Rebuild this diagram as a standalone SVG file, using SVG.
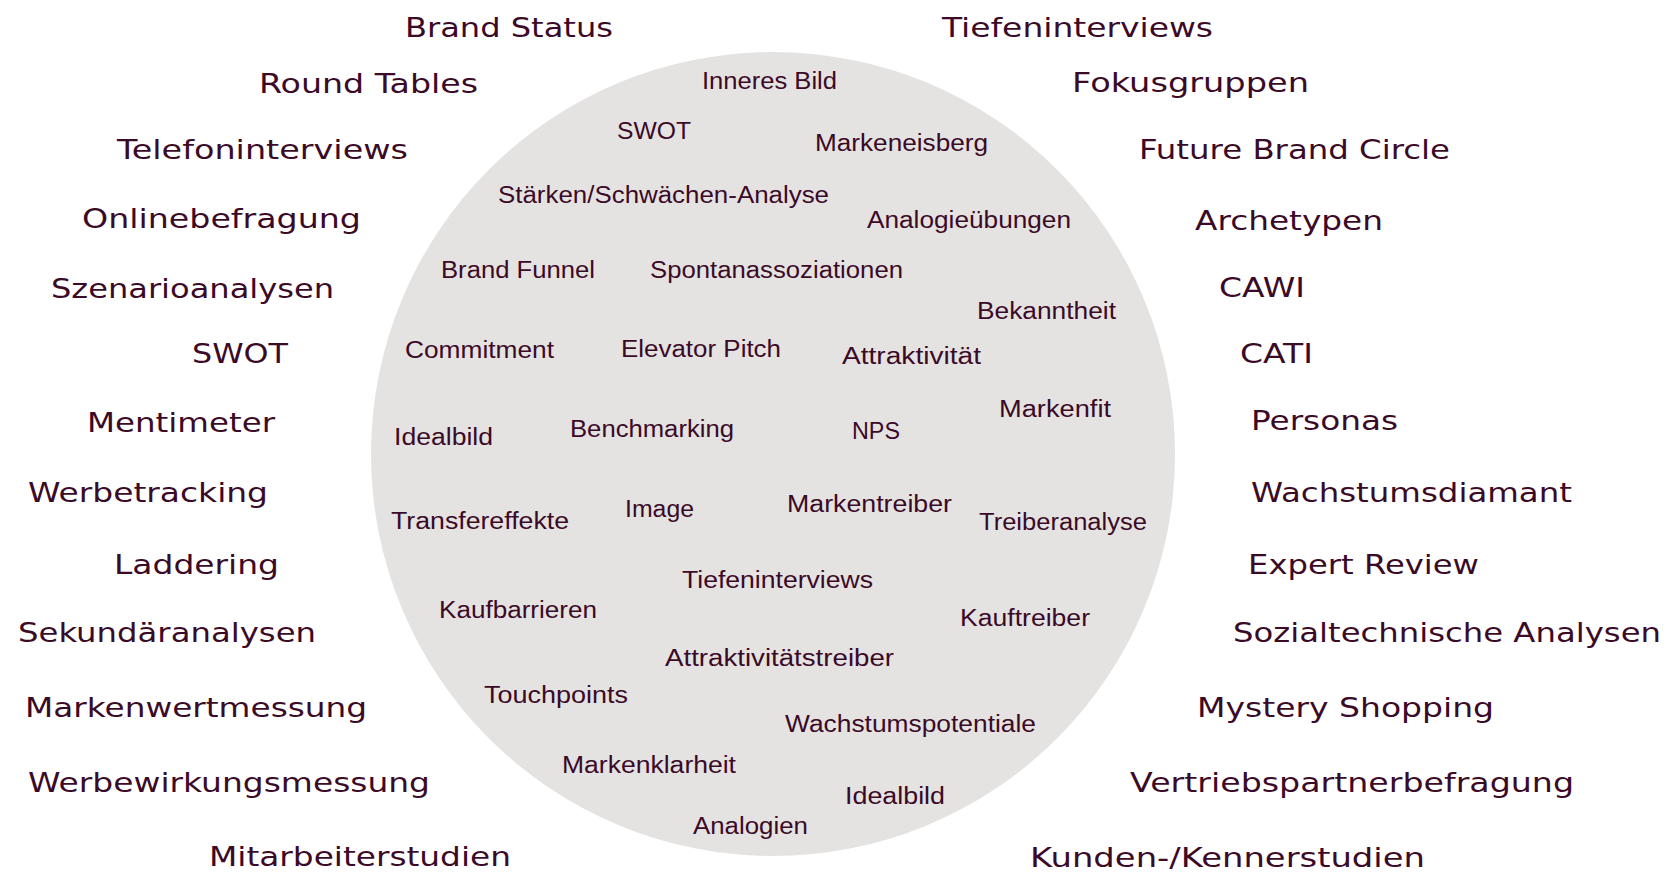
<svg xmlns="http://www.w3.org/2000/svg" width="1680" height="894" viewBox="0 0 1680 894">
<style>
.o{font-family:"DejaVu Sans","Liberation Sans",sans-serif;font-size:26.5px;fill:#3b0a27}
.i{font-family:"Liberation Sans","DejaVu Sans",sans-serif;font-size:23.5px;fill:#3b0a27}
</style>
<rect width="1680" height="894" fill="#ffffff"/>
<g id="circle"><circle cx="773" cy="454" r="402" fill="#e5e3e2"/></g>
<g id="left-methods">
<g id="l1"><text class="o" x="405" y="37" textLength="208" lengthAdjust="spacingAndGlyphs">Brand Status</text></g>
<g id="l2"><text class="o" x="259" y="93" textLength="219" lengthAdjust="spacingAndGlyphs">Round Tables</text></g>
<g id="l3"><text class="o" x="117" y="159" textLength="291" lengthAdjust="spacingAndGlyphs">Telefoninterviews</text></g>
<g id="l4"><text class="o" x="82" y="228" textLength="279" lengthAdjust="spacingAndGlyphs">Onlinebefragung</text></g>
<g id="l5"><text class="o" x="51" y="298" textLength="283" lengthAdjust="spacingAndGlyphs">Szenarioanalysen</text></g>
<g id="l6"><text class="o" x="192" y="363" textLength="96" lengthAdjust="spacingAndGlyphs">SWOT</text></g>
<g id="l7"><text class="o" x="87" y="432" textLength="188" lengthAdjust="spacingAndGlyphs">Mentimeter</text></g>
<g id="l8"><text class="o" x="28" y="502" textLength="240" lengthAdjust="spacingAndGlyphs">Werbetracking</text></g>
<g id="l9"><text class="o" x="114" y="574" textLength="165" lengthAdjust="spacingAndGlyphs">Laddering</text></g>
<g id="l10"><text class="o" x="18" y="642" textLength="298" lengthAdjust="spacingAndGlyphs">Sekundäranalysen</text></g>
<g id="l11"><text class="o" x="25" y="717" textLength="342" lengthAdjust="spacingAndGlyphs">Markenwertmessung</text></g>
<g id="l12"><text class="o" x="28" y="792" textLength="402" lengthAdjust="spacingAndGlyphs">Werbewirkungsmessung</text></g>
<g id="l13"><text class="o" x="209" y="866" textLength="302" lengthAdjust="spacingAndGlyphs">Mitarbeiterstudien</text></g>
</g>
<g id="right-methods">
<g id="r1"><text class="o" x="942" y="37" textLength="271" lengthAdjust="spacingAndGlyphs">Tiefeninterviews</text></g>
<g id="r2"><text class="o" x="1072" y="92" textLength="237" lengthAdjust="spacingAndGlyphs">Fokusgruppen</text></g>
<g id="r3"><text class="o" x="1139" y="159" textLength="311" lengthAdjust="spacingAndGlyphs">Future Brand Circle</text></g>
<g id="r4"><text class="o" x="1195" y="230" textLength="188" lengthAdjust="spacingAndGlyphs">Archetypen</text></g>
<g id="r5"><text class="o" x="1219" y="297" textLength="86" lengthAdjust="spacingAndGlyphs">CAWI</text></g>
<g id="r6"><text class="o" x="1240" y="363" textLength="73" lengthAdjust="spacingAndGlyphs">CATI</text></g>
<g id="r7"><text class="o" x="1251" y="430" textLength="147" lengthAdjust="spacingAndGlyphs">Personas</text></g>
<g id="r8"><text class="o" x="1251" y="502" textLength="321" lengthAdjust="spacingAndGlyphs">Wachstumsdiamant</text></g>
<g id="r9"><text class="o" x="1248" y="574" textLength="231" lengthAdjust="spacingAndGlyphs">Expert Review</text></g>
<g id="r10"><text class="o" x="1233" y="642" textLength="428" lengthAdjust="spacingAndGlyphs">Sozialtechnische Analysen</text></g>
<g id="r11"><text class="o" x="1197" y="717" textLength="297" lengthAdjust="spacingAndGlyphs">Mystery Shopping</text></g>
<g id="r12"><text class="o" x="1130" y="792" textLength="444" lengthAdjust="spacingAndGlyphs">Vertriebspartnerbefragung</text></g>
<g id="r13"><text class="o" x="1030" y="867" textLength="395" lengthAdjust="spacingAndGlyphs">Kunden-/Kennerstudien</text></g>
</g>
<g id="inner-topics">
<g id="c1"><text class="i" x="702" y="89" textLength="135" lengthAdjust="spacingAndGlyphs">Inneres Bild</text></g>
<g id="c2"><text class="i" x="617" y="139" textLength="74" lengthAdjust="spacingAndGlyphs">SWOT</text></g>
<g id="c3"><text class="i" x="815" y="151" textLength="173" lengthAdjust="spacingAndGlyphs">Markeneisberg</text></g>
<g id="c4"><text class="i" x="498" y="203" textLength="331" lengthAdjust="spacingAndGlyphs">Stärken/Schwächen-Analyse</text></g>
<g id="c5"><text class="i" x="867" y="228" textLength="204" lengthAdjust="spacingAndGlyphs">Analogieübungen</text></g>
<g id="c6"><text class="i" x="441" y="278" textLength="154" lengthAdjust="spacingAndGlyphs">Brand Funnel</text></g>
<g id="c7"><text class="i" x="650" y="278" textLength="253" lengthAdjust="spacingAndGlyphs">Spontanassoziationen</text></g>
<g id="c8"><text class="i" x="977" y="319" textLength="139" lengthAdjust="spacingAndGlyphs">Bekanntheit</text></g>
<g id="c9"><text class="i" x="405" y="358" textLength="149" lengthAdjust="spacingAndGlyphs">Commitment</text></g>
<g id="c10"><text class="i" x="621" y="357" textLength="160" lengthAdjust="spacingAndGlyphs">Elevator Pitch</text></g>
<g id="c11"><text class="i" x="842" y="364" textLength="139" lengthAdjust="spacingAndGlyphs">Attraktivität</text></g>
<g id="c12"><text class="i" x="394" y="445" textLength="99" lengthAdjust="spacingAndGlyphs">Idealbild</text></g>
<g id="c13"><text class="i" x="570" y="437" textLength="164" lengthAdjust="spacingAndGlyphs">Benchmarking</text></g>
<g id="c14"><text class="i" x="852" y="439" textLength="48" lengthAdjust="spacingAndGlyphs">NPS</text></g>
<g id="c15"><text class="i" x="999" y="417" textLength="112" lengthAdjust="spacingAndGlyphs">Markenfit</text></g>
<g id="c16"><text class="i" x="391" y="529" textLength="178" lengthAdjust="spacingAndGlyphs">Transfereffekte</text></g>
<g id="c17"><text class="i" x="625" y="517" textLength="69" lengthAdjust="spacingAndGlyphs">Image</text></g>
<g id="c18"><text class="i" x="787" y="512" textLength="165" lengthAdjust="spacingAndGlyphs">Markentreiber</text></g>
<g id="c19"><text class="i" x="979" y="530" textLength="168" lengthAdjust="spacingAndGlyphs">Treiberanalyse</text></g>
<g id="c20"><text class="i" x="682" y="588" textLength="191" lengthAdjust="spacingAndGlyphs">Tiefeninterviews</text></g>
<g id="c21"><text class="i" x="439" y="618" textLength="158" lengthAdjust="spacingAndGlyphs">Kaufbarrieren</text></g>
<g id="c22"><text class="i" x="960" y="626" textLength="130" lengthAdjust="spacingAndGlyphs">Kauftreiber</text></g>
<g id="c23"><text class="i" x="665" y="666" textLength="229" lengthAdjust="spacingAndGlyphs">Attraktivitätstreiber</text></g>
<g id="c24"><text class="i" x="484" y="703" textLength="144" lengthAdjust="spacingAndGlyphs">Touchpoints</text></g>
<g id="c25"><text class="i" x="785" y="732" textLength="251" lengthAdjust="spacingAndGlyphs">Wachstumspotentiale</text></g>
<g id="c26"><text class="i" x="562" y="773" textLength="174" lengthAdjust="spacingAndGlyphs">Markenklarheit</text></g>
<g id="c27"><text class="i" x="845" y="804" textLength="100" lengthAdjust="spacingAndGlyphs">Idealbild</text></g>
<g id="c28"><text class="i" x="693" y="834" textLength="115" lengthAdjust="spacingAndGlyphs">Analogien</text></g>
</g>
</svg>
